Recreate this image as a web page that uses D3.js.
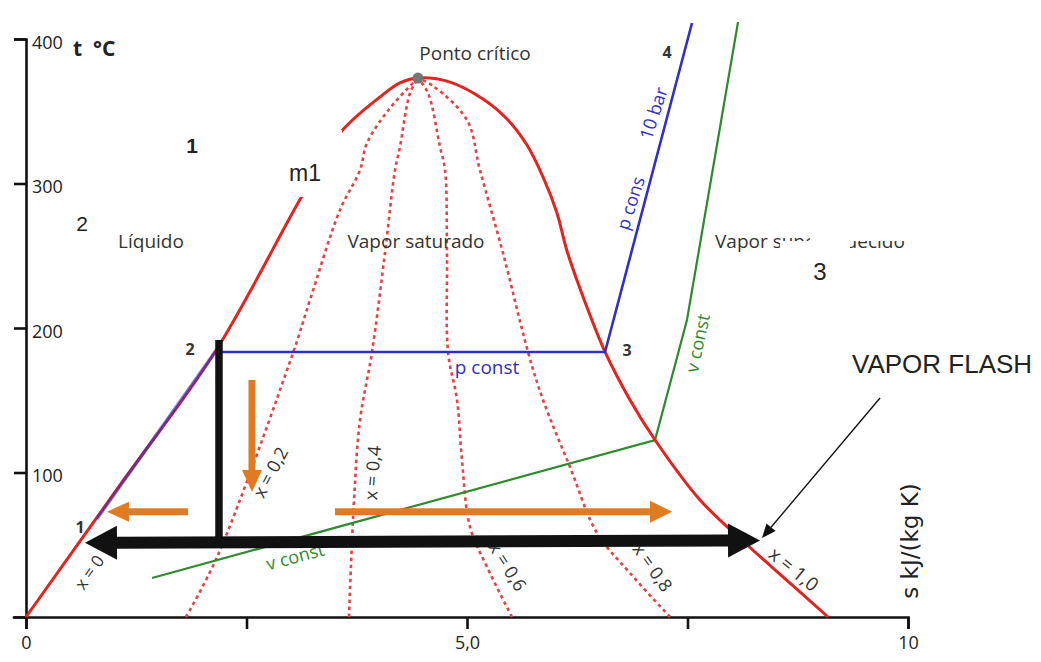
<!DOCTYPE html>
<html>
<head>
<meta charset="utf-8">
<script src="https://cdn.jsdelivr.net/npm/d3@7"></script>
<style>
  html, body { margin: 0; padding: 0; background: #fff; }
  svg { display: block; }
</style>
</head>
<body>
<svg id="chart" width="1041" height="662"></svg>
<script>
// ---- T-s diagram of water: entropy s [kJ/(kg K)] vs temperature t [°C] ----

// axis ticks
const xTickValues = [0, 2.5, 5, 7.5, 10];
const xTickLabels = ["0", "", "5,0", "", "10"];
const yTickValues = [100, 200, 300, 400];
const yTickLabels = ["100", "200", "300", "400"];

// saturation dome: liquid line (x = 0) up to the critical point, then vapour line (x = 1,0)
const liquidLine = [[0, 0], [1.071, 91.7], [2.143, 183.4], [3.129, 291.3], [3.560, 334.9],
                    [4.014, 359.9], [4.240, 369.6], [4.444, 373.0]];
const vaporLine = [[4.444, 373.0], [4.807, 370.2], [5.181, 358.5], [5.454, 344.6], [5.680, 326.6],
                   [5.862, 304.5], [6.020, 279.6], [6.134, 253.3], [6.372, 212.5], [6.565, 183.4],
                   [6.848, 150.2], [7.132, 122.5], [7.642, 81.0], [8.152, 51.2], [8.662, 23.5],
                   [9.093, 0]];
const criticalPoint = [4.444, 373.0];

// constant-quality lines inside the dome (from t = 0 up to the critical point)
const quality02 = [[1.814, 0], [2.166, 41.5], [3.027, 182.7], [3.220, 219.4], [3.560, 281.7],
                   [3.787, 309.3], [3.866, 328.0], [4.127, 352.2], [4.444, 373.0]];
const quality04 = [[3.662, 0], [3.719, 81.0], [3.787, 136.3], [3.923, 183.4], [4.070, 251.9],
                   [4.184, 309.3], [4.240, 325.3], [4.354, 362.6], [4.444, 373.0]];
const quality06 = [[5.510, 0], [5.227, 34.6], [5.034, 62.3], [4.943, 108.7], [4.887, 150.2],
                   [4.785, 183.4], [4.773, 251.9], [4.751, 309.3], [4.694, 325.3], [4.558, 362.6],
                   [4.444, 373.0]];
const quality08 = [[7.302, 0], [6.848, 30.4], [6.474, 58.1], [6.168, 103.8], [5.862, 150.2],
                   [5.692, 183.4], [5.408, 251.9], [5.147, 309.3], [5.000, 343.9], [4.615, 367.5],
                   [4.444, 373.0]];

// isobar 10 bar: compressed liquid 1 -> 2, evaporation 2 -> 3, superheating 3 -> 4
const isobarLiquid = [[0.805, 68.0], [2.143, 183.4]];
const isobarMain = [[2.143, 183.4], [6.565, 183.4], [7.551, 411.1]];

// isochore (v const)
const isochore = [[1.429, 27.0], [7.132, 122.5], [7.494, 205.5], [8.073, 411.8]];

// flash process: drop from 2 and the double-headed black arrow
const flashDrop = [[2.188, 191.7], [2.188, 51.5]];
const flashArrow = [[0.669, 51.3], [8.322, 53.0]];
// orange direction arrows [from, to]
const orangeLeft = [[1.837, 72.9], [0.918, 72.9]];
const orangeDown = [[2.562, 164.0], [2.562, 86.5]];
const orangeRight = [[3.503, 72.9], [7.324, 72.9]];
// pointer from the "VAPOR FLASH" note
const pointerArrow = [[9.683, 151.6], [8.345, 54.7]];

// ---- scales ----
const svg = d3.select("#chart");
const x = d3.scaleLinear().domain([0, 10]).range([26, 908]);
const y = d3.scaleLinear().domain([0, 400]).range([617, 39]);

const FONT = "'Open Sans', 'Noto Sans', sans-serif";
const OFFICE = "'Liberation Sans', Arial, sans-serif";

const RED = "#e2231f", RED_DASH = "#e04444", BLUE = "#3030c4", GREEN = "#2f8a2f",
      ORANGE = "#e07b22", BLACK = "#111";

// ---- axes ----
const xAxis = svg.append("g")
  .attr("transform", `translate(0,${y(0)})`)
  .call(d3.axisBottom(x).tickValues(xTickValues)
        .tickFormat(d => xTickLabels[xTickValues.indexOf(d)])
        .tickSize(12).tickPadding(7));
const yAxis = svg.append("g")
  .attr("transform", `translate(${x(0)},0)`)
  .call(d3.axisRight(y).tickValues(yTickValues)
        .tickFormat(d => yTickLabels[yTickValues.indexOf(d)])
        .tickSize(-12).tickPadding(6));
[xAxis, yAxis].forEach(g => {
  g.select(".domain").attr("stroke", BLACK).attr("stroke-width", 2.6);
  g.selectAll(".tick line").attr("stroke", BLACK).attr("stroke-width", 2.6);
  g.selectAll(".tick text").attr("font-family", FONT).attr("font-size", 18).attr("fill", "#222");
});
yAxis.selectAll(".tick text").attr("dy", "0.5em");
// short extension of the s axis to the left of the origin
svg.append("line")
  .attr("x1", x(-0.15)).attr("x2", x(0)).attr("y1", y(0) + 0.5).attr("y2", y(0) + 0.5)
  .attr("stroke", BLACK).attr("stroke-width", 2.6);

svg.append("text")
  .attr("x", x(0.533)).attr("y", y(393.5)).attr("dominant-baseline", "central")
  .attr("font-family", FONT).attr("font-size", 21).attr("font-weight", "bold").attr("fill", "#222")
  .attr("xml:space", "preserve").text("t  °C");
svg.append("text")
  .attr("transform", `translate(${x(10.02)},${y(52.6)}) rotate(-90)`)
  .attr("text-anchor", "middle").attr("dominant-baseline", "central")
  .attr("font-family", "'DejaVu Sans', sans-serif").attr("font-size", 23).attr("fill", "#222")
  .text("s kJ/(kg K)");

// ---- lines ----
const lineS = d3.line().x(d => x(d[0])).y(d => y(d[1]));

const qualityPath = d3.line().x(d => x(d[0])).y(d => y(d[1])).curve(d3.curveCatmullRom.alpha(0.5));
[quality02, quality04, quality06, quality08].forEach(q => {
  svg.append("path").attr("d", qualityPath(q))
    .attr("fill", "none").attr("stroke", RED_DASH).attr("stroke-width", 2.6)
    .attr("stroke-dasharray", "3.5,3.5");
});

svg.append("path").attr("d", lineS(isochore))
  .attr("fill", "none").attr("stroke", GREEN).attr("stroke-width", 2.2);

const domePath = d3.line().x(d => x(d[0])).y(d => y(d[1])).curve(d3.curveCatmullRom.alpha(0.5));
svg.append("path").attr("d", domePath(liquidLine.concat(vaporLine.slice(1))))
  .attr("fill", "none").attr("stroke", RED).attr("stroke-width", 3);

svg.append("path").attr("d", lineS(isobarLiquid))
  .attr("fill", "none").attr("stroke", BLUE).attr("stroke-width", 3.4).attr("stroke-opacity", 0.6);
svg.append("path").attr("d", lineS(isobarMain))
  .attr("fill", "none").attr("stroke", BLUE).attr("stroke-width", 2.6).attr("stroke-linejoin", "miter");

svg.append("circle")
  .attr("cx", x(criticalPoint[0])).attr("cy", y(criticalPoint[1])).attr("r", 5.5)
  .attr("fill", "#767676");

// ---- diagram labels ----
const diagramLabels = [
  { text: "Ponto crítico", s: 5.091, t: 390.3, rot: 0, size: 19, color: "#333" },
  { text: "Líquido", s: 1.417, t: 260.2, rot: 0, size: 19, color: "#333" },
  { text: "Vapor saturado", s: 4.422, t: 260.2, rot: 0, size: 19, color: "#333" },
  { text: "p const", s: 5.227, t: 173.0, rot: 0, size: 19, color: BLUE },
  { text: "10 bar", s: 7.109, t: 348.8, rot: -72, size: 18, color: BLUE },
  { text: "p cons", s: 6.848, t: 286.5, rot: -72, size: 18, color: BLUE },
  { text: "v const", s: 7.608, t: 189.6, rot: -78, size: 18, color: GREEN },
  { text: "v const", s: 3.050, t: 42.2, rot: -15, size: 18, color: GREEN },
  { text: "x = 0", s: 0.714, t: 31.1, rot: -55, size: 17, color: "#333" },
  { text: "x = 0,2", s: 2.766, t: 100.3, rot: -62, size: 18, color: "#333" },
  { text: "x = 0,4", s: 3.923, t: 99.7, rot: -86, size: 18, color: "#333" },
  { text: "x = 0,6", s: 5.465, t: 35.3, rot: 58, size: 18, color: "#333" },
  { text: "x = 0,8", s: 7.109, t: 34.6, rot: 55, size: 18, color: "#333" },
  { text: "x = 1,0", s: 8.707, t: 33.2, rot: 39, size: 19, color: "#333" }
];
svg.append("g").selectAll("text").data(diagramLabels).join("text")
  .attr("transform", d => `translate(${x(d.s)},${y(d.t)}) rotate(${d.rot})`)
  .attr("text-anchor", "middle").attr("dominant-baseline", "central")
  .attr("font-family", FONT).attr("font-size", d => d.size).attr("fill", d => d.color)
  .text(d => d.text);

svg.append("text")
  .attr("x", x(7.812)).attr("y", y(260.2)).attr("dominant-baseline", "central")
  .attr("font-family", FONT).attr("font-size", 19).attr("fill", "#333")
  .text("Vapor superaquecido");

// state numbers on the cycle
const stateLabels = [
  { text: "1", s: 0.612, t: 62.3 },
  { text: "2", s: 1.859, t: 185.5 },
  { text: "3", s: 6.814, t: 184.8 },
  { text: "4", s: 7.268, t: 391.0 }
];
svg.append("g").selectAll("text").data(stateLabels).join("text")
  .attr("x", d => x(d.s)).attr("y", d => y(d.t))
  .attr("text-anchor", "middle").attr("dominant-baseline", "central")
  .attr("font-family", FONT).attr("font-size", 16).attr("font-weight", "bold").attr("fill", "#333")
  .text(d => d.text);

// ---- notes placed on white boxes ----
const noteBoxes = [
  { s0: 2.823, s1: 3.583, t0: 290.7, t1: 337.0 },   // m1
  { s0: 8.549, s1: 9.342, t0: 224.9, t1: 260.2 },   // 3
  { s0: 8.889, s1: 10.42, t0: 260.2, t1: 273.4 }
];
svg.append("g").selectAll("rect").data(noteBoxes).join("rect")
  .attr("x", d => x(d.s0)).attr("y", d => y(d.t1))
  .attr("width", d => x(d.s1) - x(d.s0)).attr("height", d => y(d.t0) - y(d.t1))
  .attr("fill", "#fff");

const notes = [
  { text: "1", s: 1.882, t: 326.6, size: 21, weight: "bold", anchor: "middle" },
  { text: "2", s: 0.635, t: 272.0, size: 21, weight: "normal", anchor: "middle" },
  { text: "m1", s: 3.163, t: 307.3, size: 23, weight: "normal", anchor: "middle" },
  { text: "3", s: 9.002, t: 238.8, size: 24, weight: "normal", anchor: "middle" },
  { text: "VAPOR FLASH", s: 9.365, t: 175.1, size: 26, weight: "normal", anchor: "start" }
];
svg.append("g").selectAll("text").data(notes).join("text")
  .attr("x", d => x(d.s)).attr("y", d => y(d.t))
  .attr("text-anchor", d => d.anchor).attr("dominant-baseline", "central")
  .attr("font-family", OFFICE).attr("font-size", d => d.size).attr("font-weight", d => d.weight)
  .attr("fill", "#222").text(d => d.text);

// ---- arrows ----
function arrowHead(from, tip, len, half, color) {
  const fx = x(from[0]), fy = y(from[1]), tx = x(tip[0]), ty = y(tip[1]);
  const dist = Math.hypot(tx - fx, ty - fy), ux = (tx - fx) / dist, uy = (ty - fy) / dist;
  const bx = tx - ux * len, by = ty - uy * len;
  svg.append("polygon")
    .attr("points", [[tx, ty], [bx - uy * half, by + ux * half], [bx + uy * half, by - ux * half]].join(" "))
    .attr("fill", color);
  return [bx, by];
}
function arrow(pts, width, len, half, color, both) {
  const b1 = arrowHead(pts[0], pts[1], len, half, color);
  const b0 = both ? arrowHead(pts[1], pts[0], len, half, color) : [x(pts[0][0]), y(pts[0][1])];
  svg.append("line")
    .attr("x1", b0[0]).attr("y1", b0[1]).attr("x2", b1[0]).attr("y2", b1[1])
    .attr("stroke", color).attr("stroke-width", width);
}

svg.append("path").attr("d", lineS(flashDrop))
  .attr("stroke", BLACK).attr("stroke-width", 7.5).attr("fill", "none");
arrow(flashArrow, 12, 32, 17, BLACK, true);

arrow(orangeLeft, 7, 22, 10, ORANGE, false);
arrow(orangeDown, 7, 22, 10, ORANGE, false);
arrow(orangeRight, 7, 22, 11, ORANGE, false);

arrow(pointerArrow, 1.4, 14, 6, BLACK, false);
</script>
</body>
</html>
